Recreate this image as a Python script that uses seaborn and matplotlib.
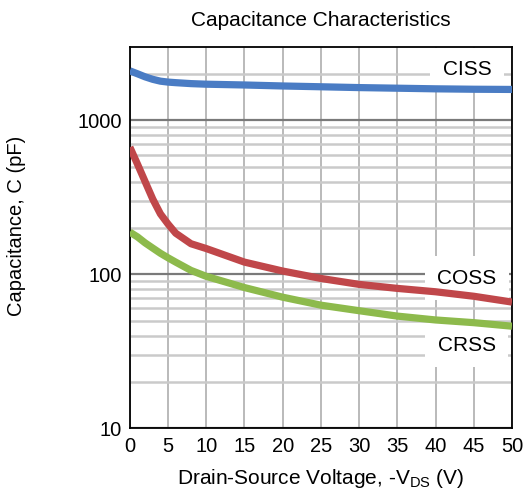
import numpy as np
import pandas as pd
import matplotlib
matplotlib.use("Agg")
import matplotlib.pyplot as plt
import seaborn as sns
from matplotlib.ticker import FixedLocator, NullFormatter

vds = [0, 1, 2, 3, 4, 5, 6, 8, 10, 15, 20, 25, 30, 35, 40, 45, 50]
ciss = [2100, 2010, 1920, 1850, 1800, 1775, 1760, 1735, 1720, 1700, 1675, 1655, 1635, 1620, 1605, 1595, 1590]
coss = [670, 520, 400, 308, 247, 212, 185, 158, 147, 120, 105, 94, 86, 81, 77, 72, 66]
crss = [188, 175, 160, 148, 137, 128, 120, 106, 97, 82, 71, 63, 58, 53.5, 50.5, 48.5, 46]
series = ["CISS", "COSS", "CRSS"]
colors = {"CISS": "#4a7cc4", "COSS": "#c0474a", "CRSS": "#8dba4c"}
label_pos = {"CISS": (44.1, 2130), "COSS": (44.1, 94), "CRSS": (44.1, 34.5)}

df = pd.DataFrame({
    "VDS": vds * 3,
    "C": ciss + coss + crss,
    "series": sum([[s] * len(vds) for s in series], []),
})

sns.set_style("white")
plt.rcParams["font.family"] = ["Liberation Sans", "DejaVu Sans"]
plt.rcParams["mathtext.fontset"] = "custom"
plt.rcParams["mathtext.rm"] = "Liberation Sans"
plt.rcParams["text.color"] = "black"
plt.rcParams["axes.labelcolor"] = "black"
plt.rcParams["xtick.color"] = "black"
plt.rcParams["ytick.color"] = "black"

fig = plt.figure(figsize=(5.3, 4.95), dpi=100)
ax = fig.add_axes([0.245, 0.135, 0.721, 0.770])
ax.set_yscale("log")
ax.set_xlim(0, 50)
ax.set_ylim(10, 3000)

# grid
ax.xaxis.set_major_locator(FixedLocator(np.arange(0, 51, 5)))
ax.yaxis.set_major_locator(FixedLocator([10, 100, 1000]))
minors = [m * d for d in (10, 100, 1000) for m in range(2, 10) if m * d < 3000]
ax.yaxis.set_minor_locator(FixedLocator(minors))
ax.yaxis.set_minor_formatter(NullFormatter())
ax.grid(True, axis="x", which="major", color="#b4b4b4", lw=1.3, zorder=0)
ax.grid(True, axis="y", which="major", color="#7a7a7a", lw=1.6, zorder=0)
ax.grid(True, axis="y", which="minor", color="#cacaca", lw=1.8, zorder=0)
ax.set_axisbelow(True)

sns.lineplot(data=df, x="VDS", y="C", hue="series", palette=colors,
             lw=5.2, legend=False, ax=ax, zorder=3, solid_capstyle="butt",
             solid_joinstyle="round")

for s in series:
    x, y = label_pos[s]
    ax.text(x, y, s, ha="center", va="center", fontsize=15, zorder=2,
            bbox=dict(facecolor="white", edgecolor="none", pad=9))

ax.tick_params(axis="both", which="both", length=0, labelsize=14.5, pad=6)
ax.set_xticklabels([str(v) for v in range(0, 51, 5)])
ax.set_yticklabels(["10", "100", "1000"])
for sp in ax.spines.values():
    sp.set_color("black")
    sp.set_linewidth(1.3)

ax.set_title("Capacitance Characteristics", fontsize=15, pad=15)
ax.set_xlabel(r"Drain-Source Voltage, -V$_{\mathregular{DS}}$ (V)", fontsize=15, labelpad=8)
ax.set_ylabel("Capacitance, C (pF)", fontsize=14.5)
ax.yaxis.set_label_coords(-0.272, 0.53)

fig.savefig("out.png", dpi=100, facecolor="white")
